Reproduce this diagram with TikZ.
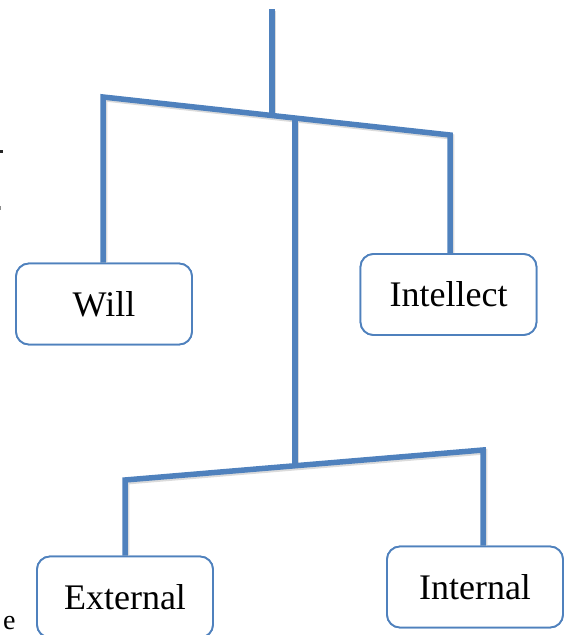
\documentclass[tikz,border=0pt]{standalone}
\usepackage{fontspec}
\setmainfont{Liberation Serif}
\begin{document}
\begin{tikzpicture}[x=1pt,y=-1pt,
  branch/.style={draw=lineblue,line width=5.5pt,line join=miter},
  branchshadow/.style={draw=black!14,line width=5.5pt,line join=miter,transform canvas={shift={(1.5pt,-1.8pt)}}},
  termbox/.style={draw=lineblue,line width=1.8pt,rounded corners=13pt,fill=white,
    minimum width=176pt,minimum height=81pt,inner sep=0pt,
    font=\fontsize{36}{42}\selectfont}]
\definecolor{lineblue}{RGB}{79,129,189}
\useasboundingbox (0,0) rectangle (569,635);

% junction points of the two cross bars
\coordinate (top) at (272,9);
\coordinate (jtop) at (272,115.5);
\coordinate (cbl) at (103,97);
\coordinate (cbr) at (450,135);
\coordinate (stemtop) at (295,118);
\coordinate (stembot) at (295,466);
\coordinate (lbl) at (125,480);
\coordinate (lbr) at (483,450);

% the four terms
\node[termbox] (will) at (104,304) {Will};
\node[termbox] (intellect) at (448.5,294.5) {Intellect};
\node[termbox] (external) at (125,597) {External};
\node[termbox] (internal) at (475,587) {Internal};

% soft shadow under the branches
\draw[branchshadow] (top) -- (jtop);
\draw[branchshadow] (cbl |- will.north) -- (cbl) -- (cbr) -- (cbr |- intellect.north);
\draw[branchshadow] (stemtop) -- (stembot);
\draw[branchshadow] (lbl |- external.north) -- (lbl) -- (lbr) -- (lbr |- internal.north);

% branches
\draw[branch] (top) -- (jtop);
\draw[branch] (cbl |- will.north) -- (cbl) -- (cbr) -- (cbr |- intellect.north);
\draw[branch] (stemtop) -- (stembot);
\draw[branch] (lbl |- external.north) -- (lbl) -- (lbr) -- (lbr |- internal.north);

% redraw the boxes above the shadow ends
\node[termbox] at (will) {Will};
\node[termbox] at (intellect) {Intellect};
\node[termbox] at (external) {External};
\node[termbox] at (internal) {Internal};

% fragments at the left margin
\fill[black!85] (0,149.5) rectangle (3,153);
\fill[black!45] (0,206) rectangle (1,210);
\node[anchor=base west,inner sep=0pt,font=\fontsize{28}{32}\selectfont] (frag) at (3,629) {e};
\end{tikzpicture}
\end{document}
